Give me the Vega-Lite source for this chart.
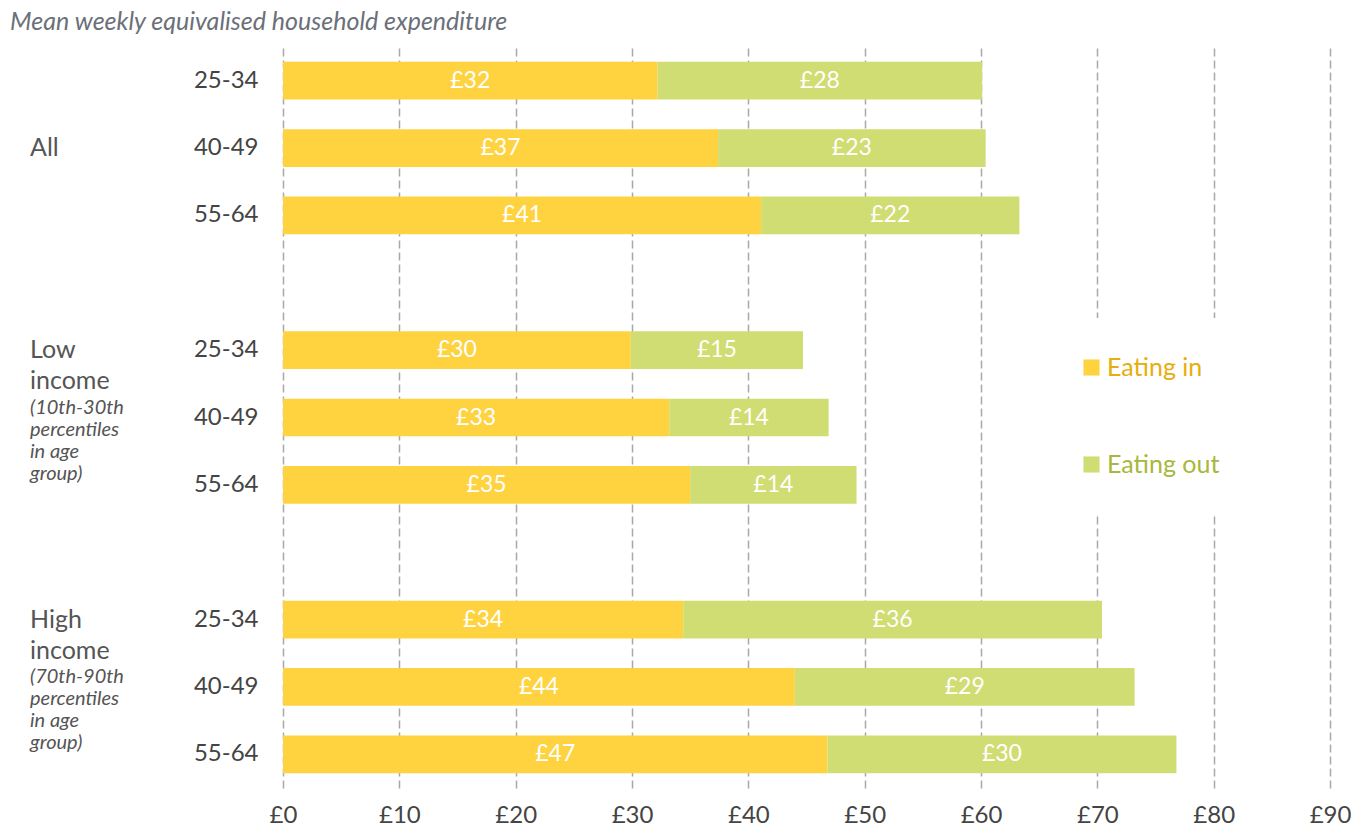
{
  "$schema": "https://vega.github.io/schema/vega-lite/v6.json",
  "padding": {"left": 10, "top": 10, "right": 10, "bottom": 0},
  "bounds": "flush",
  "spacing": 0,
  "title": {"text": "Mean weekly equivalised household expenditure", "anchor": "start", "fontStyle": "italic", "fontWeight": "normal", "fontSize": 25, "color": "#6b7079", "font": "Lato", "offset": 12},
  "config": {"view": {"stroke": null}, "font": "Lato"},
  "resolve": {"scale": {"x": "independent", "y": "independent"}},
  "datasets": {
    "spend": [
      {"row": "All|25-34", "type": "Eating in", "value": 32.2},
      {"row": "All|25-34", "type": "Eating out", "value": 27.9},
      {"row": "All|40-49", "type": "Eating in", "value": 37.4},
      {"row": "All|40-49", "type": "Eating out", "value": 23.0},
      {"row": "All|55-64", "type": "Eating in", "value": 41.1},
      {"row": "All|55-64", "type": "Eating out", "value": 22.2},
      {"row": "Low|25-34", "type": "Eating in", "value": 29.9},
      {"row": "Low|25-34", "type": "Eating out", "value": 14.8},
      {"row": "Low|40-49", "type": "Eating in", "value": 33.2},
      {"row": "Low|40-49", "type": "Eating out", "value": 13.7},
      {"row": "Low|55-64", "type": "Eating in", "value": 35.0},
      {"row": "Low|55-64", "type": "Eating out", "value": 14.3},
      {"row": "High|25-34", "type": "Eating in", "value": 34.4},
      {"row": "High|25-34", "type": "Eating out", "value": 36.0},
      {"row": "High|40-49", "type": "Eating in", "value": 44.0},
      {"row": "High|40-49", "type": "Eating out", "value": 29.2},
      {"row": "High|55-64", "type": "Eating in", "value": 46.8},
      {"row": "High|55-64", "type": "Eating out", "value": 30.0}
    ],
    "groups": [
      {"row": "All|40-49", "kind": "single", "text": "All"},
      {"row": "Low|25-34", "kind": "name", "text": "Low\nincome"},
      {"row": "Low|40-49", "kind": "note", "text": "(10th-30th\npercentiles\nin age\ngroup)"},
      {"row": "High|25-34", "kind": "name", "text": "High\nincome"},
      {"row": "High|40-49", "kind": "note", "text": "(70th-90th\npercentiles\nin age\ngroup)"}
    ]
  },
  "hconcat": [
    {
      "width": 273,
      "height": 741,
      "data": {"name": "groups"},
      "encoding": {
        "y": {"field": "row", "type": "nominal", "scale": {"domain": ["All|25-34", "All|40-49", "All|55-64", "gap1", "Low|25-34", "Low|40-49", "Low|55-64", "gap2", "High|25-34", "High|40-49", "High|55-64"], "paddingInner": 0.44, "paddingOuter": 0.22}, "axis": null},
        "x": {"datum": 20, "type": "quantitative", "scale": {"domain": [0, 273], "nice": false, "zero": false}, "axis": null},
        "text": {"field": "text"}
      },
      "layer": [
        {"transform": [{"filter": "datum.kind === 'single'"}], "mark": {"type": "text", "align": "left", "baseline": "middle", "fontSize": 25, "color": "#555555"}},
        {"transform": [{"filter": "datum.kind === 'name'"}], "mark": {"type": "text", "align": "left", "baseline": "middle", "fontSize": 25, "color": "#555555", "lineBreak": "\n", "lineHeight": 31, "dy": 0}},
        {"transform": [{"filter": "datum.kind === 'note'"}], "mark": {"type": "text", "align": "left", "baseline": "middle", "fontSize": 20, "fontStyle": "italic", "color": "#555555", "lineBreak": "\n", "lineHeight": 22, "dy": -10}}
      ]
    },
    {
      "width": 1047,
      "height": 741,
      "data": {"name": "spend"},
      "encoding": {
        "y": {"field": "row", "type": "nominal", "scale": {"domain": ["All|25-34", "All|40-49", "All|55-64", "gap1", "Low|25-34", "Low|40-49", "Low|55-64", "gap2", "High|25-34", "High|40-49", "High|55-64"], "paddingInner": 0.44, "paddingOuter": 0.22},
          "axis": {"title": null, "domain": false, "ticks": false, "grid": false, "labelFontSize": 24, "labelColor": "#444444", "labelPadding": 25, "labelExpr": "indexof(datum.value, '|') > 0 ? split(datum.value, '|')[1] : ''"}}
      },
      "layer": [
        {
          "mark": {"type": "bar"},
          "encoding": {
            "x": {"field": "value", "type": "quantitative", "stack": "zero", "scale": {"domain": [0, 90], "nice": false},
              "axis": {"values": [0, 10, 20, 30, 40, 50, 60, 70, 80, 90], "labelExpr": "'£' + datum.value", "title": null, "domain": false, "ticks": false, "grid": true, "gridDash": [8, 4], "gridColor": "#a8a8a8", "gridWidth": 1.5, "labelFontSize": 24, "labelColor": "#444444", "labelPadding": 15, "labelFlush": false, "labelOverlap": false}},
            "color": {"field": "type", "type": "nominal", "scale": {"domain": ["Eating in", "Eating out"], "range": ["#FFD33F", "#D0DD72"]},
              "legend": {"title": null, "orient": "none", "legendX": 1032, "legendY": 271, "fillColor": "white", "padding": 37, "symbolType": "square", "symbolSize": 260, "symbolStrokeWidth": 0, "labelFontSize": 25, "rowPadding": 71, "labelOffset": 3,
                "encode": {"labels": {"update": {"fill": {"signal": "datum.label === 'Eating in' ? '#E6AE0A' : '#A7B83B'"}}}}}},
            "order": {"field": "type"}
          }
        },
        {
          "transform": [
            {"stack": "value", "groupby": ["row"], "sort": [{"field": "type", "order": "ascending"}], "as": ["v0", "v1"]},
            {"calculate": "(datum.v0 + datum.v1) / 2", "as": "mid"},
            {"calculate": "'£' + format(datum.value, '.0f')", "as": "label"}
          ],
          "mark": {"type": "text", "color": "white", "fontSize": 23, "baseline": "middle", "align": "center"},
          "encoding": {
            "x": {"field": "mid", "type": "quantitative"},
            "text": {"field": "label"}
          }
        }
      ]
    }
  ]
}
